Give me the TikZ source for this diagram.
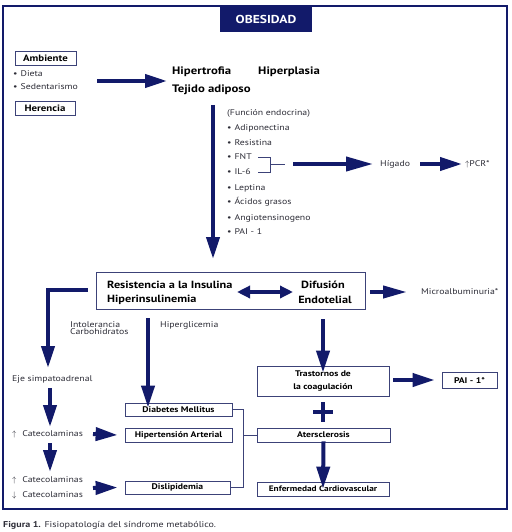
\documentclass[tikz,border=0pt]{standalone}
\usepackage{amsmath}
\usepackage{fontspec}
\setmainfont{PT Sans}[FakeStretch=1.18]
\usepackage{tikz}
\usetikzlibrary{arrows.meta}
\definecolor{navy}{RGB}{18,26,106}
\definecolor{boxline}{RGB}{60,66,120}
\definecolor{txt}{RGB}{45,45,55}

\begin{document}
\begin{tikzpicture}[line cap=butt,line join=miter,x=1pt,y=-1pt,
  font=\fontsize{8.3}{9}\selectfont, text=txt,
  arr/.style={draw=navy,line width=4pt,-{Triangle[length=22pt,width=13pt]}},
  darr/.style={draw=navy,line width=4pt,{Triangle[length=13pt,width=12pt]}-{Triangle[length=13pt,width=12pt]}},
  box/.style={draw=boxline,line width=0.8pt,inner sep=0pt,text=black,font=\fontsize{8.2}{10}\selectfont\bfseries},
  tag/.style={anchor=west,inner sep=0pt},
  head/.style={anchor=west,inner sep=0pt,text=black,font=\fontsize{10.8}{12}\selectfont\bfseries},
  brk/.style={draw=boxline,line width=0.7pt}]
\useasboundingbox (0,0) rectangle (511,532);
\draw[navy,line width=1.6pt] (3,6) rectangle (507,509);
\node[fill=navy,text=white,inner sep=0pt,minimum width=92pt,minimum height=26pt,
  font=\fontsize{11.5}{12}\selectfont\bfseries] (obes) at (266,19) {OBESIDAD};
% causas
\node[box,minimum width=61pt,minimum height=14pt,font=\fontsize{9.2}{10}\selectfont\bfseries] (amb) at (45.5,58) {Ambiente};
\node[tag] (dieta) at (13,74) {\textbullet\hspace{3pt}Dieta};
\node[tag] (sed) at (13,87) {\textbullet\hspace{3pt}Sedentarismo};
\node[box,minimum width=60pt,minimum height=14pt,font=\fontsize{9.2}{10}\selectfont\bfseries] (her) at (45,108) {Herencia};
% tejido adiposo
\node[head] (hipt) at (172,72) {Hipertrofia};
\node[head] (hipp) at (258,72) {Hiperplasia};
\node[head] (tej) at (172,90) {Tejido adiposo};
\coordinate (c1) at (97,81);
\coordinate (c2) at (167,81);
\draw[arr] (c1) -- (c2);
% funcion endocrina
\node[tag] (fe) at (227,113) {(Función endocrina)};
\foreach \t/\y/\n in {Adiponectina/128/adi,Resistina/143/res,FNT/157/fnt,IL-6/172/il,
  Leptina/188/lep,Ácidos grasos/202/aci,Angiotensinogeno/218/ang,PAI - 1/232/pai1}
  \node[tag] (\n) at (227,\y) {\textbullet\hspace{3pt}\t};
\coordinate (c3) at (213,105);
\coordinate (c4) at (213,259);
\draw[arr] (c3) -- (c4);
\draw[brk] (258,157) -- (270,157) -- (270,172) -- (258,172);
\draw[brk] (270,164.5) -- (285,164.5);
\node[tag] (hig) at (380,164) {Hígado};
\node[tag] (pcr) at (465,164) {$\uparrow$PCR*};
\coordinate (c5) at (293,164);
\draw[arr,-{Triangle[length=27pt,width=14pt]}] (c5) -- ([xshift=-7pt]hig.west);
\draw[arr] ([xshift=10pt]hig.east) -- ([xshift=-3pt]pcr.west);
% resistencia a la insulina
\node[box,minimum width=269pt,minimum height=37pt] (ri) at (230.5,290.5) {};
\node[head,font=\fontsize{10.4}{11}\selectfont\bfseries] (ri1) at (107,285) {Resistencia a la Insulina};
\node[head,font=\fontsize{10.4}{11}\selectfont\bfseries] (ri2) at (107,299.5) {Hiperinsulinemia};
\node[head,anchor=center,font=\fontsize{10.4}{11}\selectfont\bfseries] (de1) at (323,285) {Difusión};
\node[head,anchor=center,font=\fontsize{10.4}{11}\selectfont\bfseries] (de2) at (325,300) {Endotelial};
\coordinate (c6) at (237,292);
\coordinate (c7) at (293,292);
\draw[darr] (c6) -- (c7);
\node[tag] (mic) at (421,292) {Microalbuminuria*};
\draw[arr,-{Triangle[length=24pt,width=12pt]}] ([xshift=5pt]ri.east |- mic) -- ([xshift=-14pt]mic.west);
% rama izquierda
\node[tag] (intol) at (70,329.5) {\begin{tabular}{@{}l@{}}Intolerancia\\[-2pt] Carbohidratos\end{tabular}};
\node[tag] (hgl) at (160,325) {Hiperglicemia};
\node[tag] (eje) at (12,379) {Eje simpatoadrenal};
\draw[arr] ([xshift=-8pt]ri.west |- 0,290) -- (48,290) -- (48,368);
\node[box,minimum width=107pt,minimum height=13pt] (dm) at (178.5,409.5) {Diabetes Mellitus};
\node[box,minimum width=107pt,minimum height=14pt] (hta) at (178.5,435) {Hipertensión Arterial};
\node[box,minimum width=105pt,minimum height=13pt] (dis) at (177.5,487.5) {Dislipidemia};
\draw[arr] (148,318) -- ([yshift=-5pt]dm.north -| 148,0);
\node[tag] (ca1) at (12,434) {$\uparrow$\hspace{6pt}Catecolaminas};
\node[tag] (ca2) at (12,480) {$\uparrow$\hspace{6pt}Catecolaminas};
\node[tag] (ca3) at (12,495) {$\downarrow$\hspace{6pt}Catecolaminas};
\draw[arr] (50,388) -- (50,427);
\draw[arr] (50,443) -- (50,472);
\draw[arr] (93,434) -- ([xshift=-7pt]hta.west);
\draw[arr] (93,488) -- ([xshift=-7pt]dis.west);
% rama derecha
\node[box,minimum width=132pt,minimum height=30pt,align=center,
  font=\fontsize{8.2}{13}\selectfont\bfseries] (tras) at (323,381) {Trastornos de\\la coagulación};
\node[box,minimum width=55pt,minimum height=16pt] (pai) at (469.5,380) {PAI - 1*};
\node[box,minimum width=133pt,minimum height=14pt] (ater) at (323.5,435) {Atersclerosis};
\node[box,minimum width=132pt,minimum height=14pt,font=\fontsize{7.9}{10}\selectfont\bfseries] (enf) at (323,489) {Enfermedad Cardiovascular};
\draw[arr] (323,319) -- ([yshift=-7pt]tras.north);
\draw[arr] ([xshift=4pt]tras.east |- pai) -- ([xshift=-7pt]pai.west);
\draw[navy,line width=4pt] (313,412) -- (333,412) (323,402) -- (323,422);
\draw[arr] ([yshift=1pt]ater.south) -- ([yshift=-7pt]enf.north);
\draw[brk] (dm.east) -- (243,409.5) -- (243,487.5) -- (dis.east);
\draw[brk] (243,435) -- (ater.west);
% pie
\node[tag,font=\fontsize{8.5}{10}\selectfont] (fig) at (3,525) {\textbf{Figura 1.} Fisiopatología del síndrome metabólico.};
\end{tikzpicture}
\end{document}
